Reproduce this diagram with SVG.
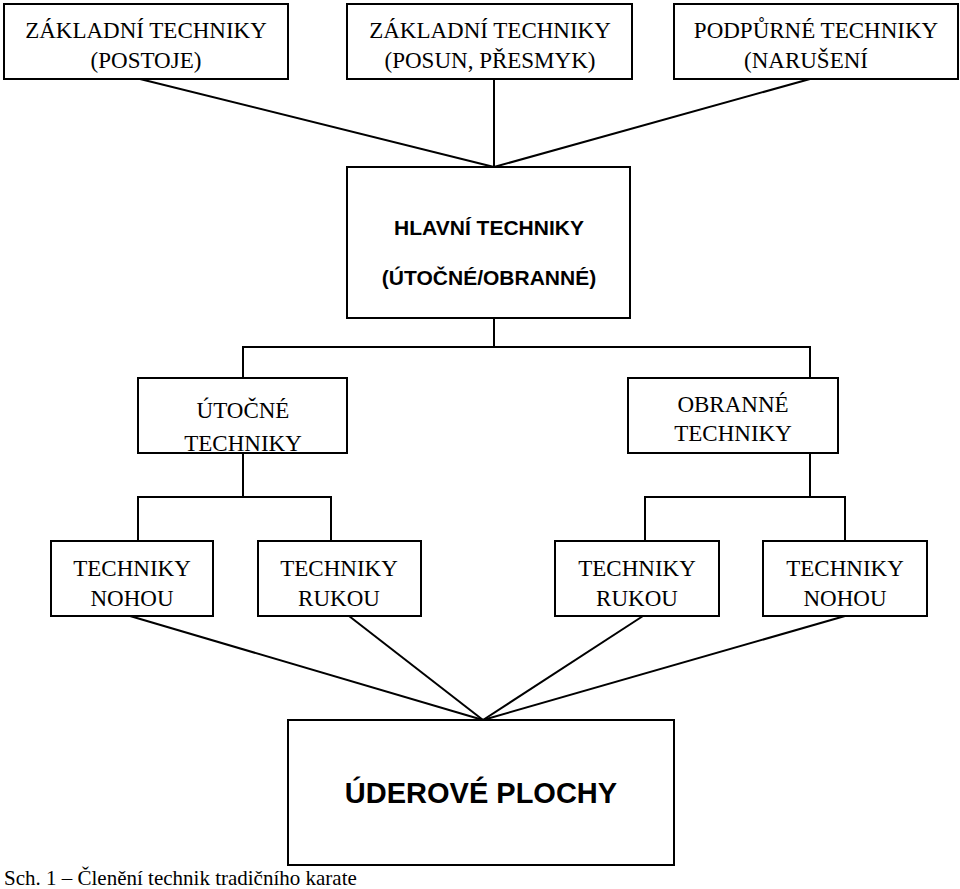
<svg xmlns="http://www.w3.org/2000/svg" width="960" height="889" viewBox="0 0 960 889">
<style>
rect{fill:#fff;stroke:#000;stroke-width:2}
.c line,.c polyline{stroke:#000;stroke-width:2;fill:none}
.s{font-size:23px;text-anchor:middle}
.b{font-weight:bold;text-anchor:middle}
</style>
<rect x="0" y="0" width="960" height="889" style="stroke:none"/>
<g class="c">
<line x1="140" y1="79" x2="494" y2="167"/>
<line x1="494" y1="79" x2="494" y2="167"/>
<line x1="810" y1="79" x2="494" y2="167"/>
<polyline points="494,318 494,347"/>
<polyline points="243,378 243,347 810,347 810,378"/>
<polyline points="243,453 243,497"/>
<polyline points="138,541 138,497 331,497 331,541"/>
<polyline points="810,453 810,497"/>
<polyline points="645,541 645,497 845,497 845,541"/>
<line x1="130" y1="616" x2="483" y2="720"/>
<line x1="349" y1="616" x2="483" y2="720"/>
<line x1="643" y1="616" x2="483" y2="720"/>
<line x1="845" y1="616" x2="483" y2="720"/>
</g>
<g font-family="Liberation Serif, serif">
<g id="n1"><rect x="4" y="4" width="284" height="75"/><text class="s" x="146" y="38">ZÁKLADNÍ TECHNIKY</text><text class="s" x="146" y="68">(POSTOJE)</text></g>
<g id="n2"><rect x="347" y="4" width="285" height="75"/><text class="s" x="490" y="38">ZÁKLADNÍ TECHNIKY</text><text class="s" x="490" y="68">(POSUN, PŘESMYK)</text></g>
<g id="n3"><rect x="674" y="4" width="284" height="75"/><text class="s" x="816" y="38">PODPŮRNÉ TECHNIKY</text><text class="s" x="806" y="68">(NARUŠENÍ</text></g>
<g id="n5"><rect x="138" y="378" width="209" height="75"/><text class="s" x="243" y="418">ÚTOČNÉ</text><text class="s" x="243" y="451">TECHNIKY</text></g>
<g id="n6"><rect x="628" y="378" width="210" height="75"/><text class="s" x="733" y="412">OBRANNÉ</text><text class="s" x="733" y="441">TECHNIKY</text></g>
<g id="n7"><rect x="51" y="541" width="162" height="75"/><text class="s" x="132" y="576">TECHNIKY</text><text class="s" x="132" y="606">NOHOU</text></g>
<g id="n8"><rect x="258" y="541" width="163" height="75"/><text class="s" x="339" y="576">TECHNIKY</text><text class="s" x="339" y="606">RUKOU</text></g>
<g id="n9"><rect x="555" y="541" width="164" height="75"/><text class="s" x="637" y="576">TECHNIKY</text><text class="s" x="637" y="606">RUKOU</text></g>
<g id="n10"><rect x="763" y="541" width="164" height="75"/><text class="s" x="845" y="576">TECHNIKY</text><text class="s" x="845" y="606">NOHOU</text></g>
<text x="4" y="885" font-size="21">Sch. 1 – Členění technik tradičního karate</text>
</g>
<g font-family="Liberation Sans, Arial, sans-serif">
<g id="n4"><rect x="347" y="167" width="283" height="151"/><text class="b" x="489" y="235" font-size="21">HLAVNÍ TECHNIKY</text><text class="b" x="489" y="285" font-size="21">(ÚTOČNÉ/OBRANNÉ)</text></g>
<g id="n11"><rect x="288" y="720" width="386" height="145"/><text class="b" x="481" y="803" font-size="29">ÚDEROVÉ PLOCHY</text></g>
</g>
</svg>
